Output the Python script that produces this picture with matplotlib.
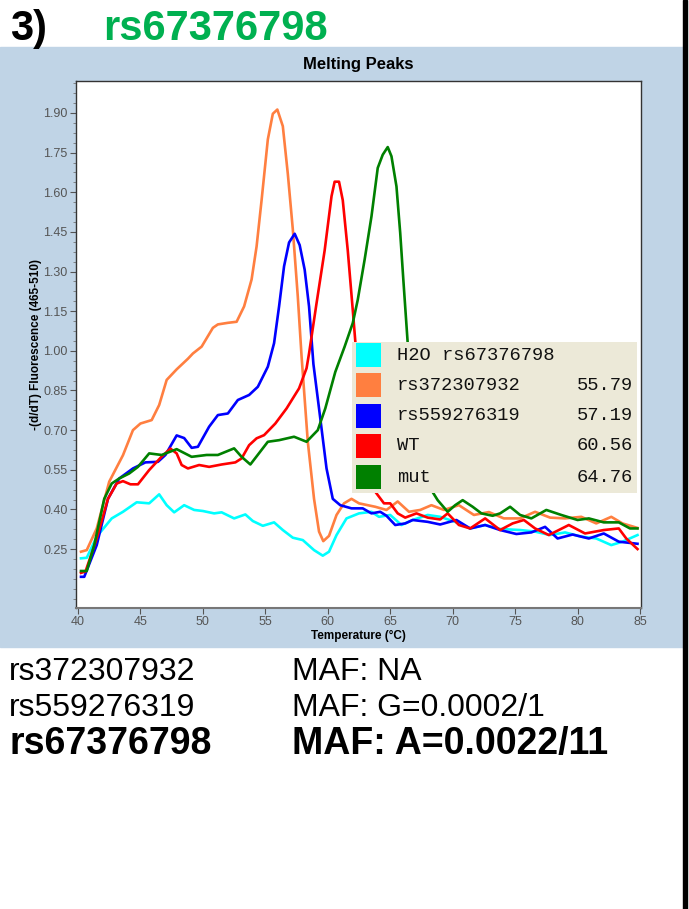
import numpy as np
import matplotlib.pyplot as plt
from matplotlib.patches import Rectangle
from matplotlib.ticker import MultipleLocator, AutoMinorLocator

# melting peak curves (temperature, -(d/dT) fluorescence)
t_h2o = [40.24, 40.7, 41.5, 42.7, 43.6, 44.7, 45.7, 46.5, 47.1, 47.7, 48.5, 49.3, 50.0,
         50.9, 51.5, 52.5, 53.4, 54.0, 54.8, 55.7, 56.4, 57.2, 58.0, 58.9, 59.6, 60.1,
         60.7, 61.5, 62.5, 63.5, 64.1, 65.0, 65.9, 66.8, 68.0, 69.0, 70.2, 71.4, 72.6,
         73.8, 75.4, 76.6, 77.8, 79.0, 80.3, 81.5, 82.7, 83.6, 84.8]
y_h2o = [0.215, 0.217, 0.297, 0.366, 0.391, 0.427, 0.423, 0.457, 0.416, 0.389, 0.416, 0.398, 0.394,
         0.385, 0.389, 0.366, 0.381, 0.356, 0.338, 0.351, 0.322, 0.293, 0.284, 0.246, 0.225, 0.24,
         0.303, 0.366, 0.385, 0.391, 0.372, 0.379, 0.341, 0.36, 0.379, 0.372, 0.353, 0.328, 0.341,
         0.326, 0.322, 0.316, 0.303, 0.313, 0.297, 0.29, 0.265, 0.278, 0.303]

t_rs372 = [40.24, 40.7, 41.5, 42.5, 43.6, 44.4, 45.0, 45.9, 46.5, 47.1, 47.9, 48.8, 49.2, 49.9,
           50.8, 51.2, 52.0, 52.7, 53.3, 53.9, 54.3, 54.7, 55.2, 55.6, 55.96, 56.4, 56.8, 57.2,
           57.6, 57.9, 58.4, 58.9, 59.3, 59.64, 60.1, 60.7, 61.3, 61.9, 62.5, 63.8, 64.7, 65.6,
           66.5, 67.4, 68.3, 69.3, 70.5, 71.7, 72.9, 74.1, 75.4, 76.6, 77.8, 79.0, 80.3, 81.5,
           82.7, 83.6, 84.8]
y_rs372 = [0.24, 0.246, 0.328, 0.505, 0.605, 0.70, 0.725, 0.738, 0.795, 0.89, 0.93, 0.97, 0.99, 1.016,
           1.087, 1.10, 1.106, 1.11, 1.168, 1.27, 1.395, 1.57, 1.80, 1.897, 1.913, 1.85, 1.67, 1.46,
           1.205, 0.98, 0.656, 0.44, 0.316, 0.28, 0.30, 0.379, 0.423, 0.44, 0.423, 0.41, 0.398, 0.43,
           0.391, 0.398, 0.416, 0.398, 0.416, 0.379, 0.39, 0.366, 0.366, 0.391, 0.369, 0.366, 0.372, 0.347,
           0.372, 0.347, 0.33]

t_rs559 = [40.24, 40.5, 41.5, 42.4, 43.3, 44.4, 45.4, 46.4, 47.0, 47.9, 48.5, 49.1, 49.6, 50.5,
           51.2, 52.0, 52.8, 53.7, 54.4, 55.2, 55.7, 56.1, 56.5, 56.9, 57.35, 57.75, 58.15, 58.5,
           58.85, 59.3, 59.9, 60.4, 61.0, 61.9, 62.8, 63.5, 64.2, 64.7, 65.4, 66.2, 66.8, 68.0,
           69.0, 70.3, 71.4, 72.6, 73.8, 75.1, 76.3, 77.4, 78.4, 79.6, 80.9, 82.1, 83.3, 84.8]
y_rs559 = [0.145, 0.145, 0.265, 0.44, 0.517, 0.555, 0.578, 0.58, 0.606, 0.68, 0.67, 0.633, 0.637, 0.713,
           0.757, 0.763, 0.814, 0.833, 0.864, 0.94, 1.029, 1.168, 1.32, 1.41, 1.443, 1.40, 1.307, 1.168,
           0.95, 0.782, 0.555, 0.44, 0.416, 0.404, 0.404, 0.385, 0.391, 0.376, 0.341, 0.347, 0.36, 0.353,
           0.343, 0.36, 0.328, 0.341, 0.322, 0.307, 0.313, 0.334, 0.29, 0.305, 0.29, 0.309, 0.278, 0.27]

t_wt = [40.24, 40.6, 41.5, 42.4, 43.1, 43.6, 44.2, 44.8, 45.7, 46.7, 47.4, 47.9, 48.3, 48.8,
        49.7, 50.5, 51.5, 52.6, 53.1, 53.7, 54.3, 54.9, 55.8, 56.7, 57.7, 58.3, 58.5, 59.1,
        59.75, 60.3, 60.55, 60.9, 61.2, 61.6, 62.0, 62.3, 63.0, 63.8, 64.5, 65.0, 65.6, 66.2,
        67.1, 68.0, 69.0, 69.6, 70.5, 71.4, 72.6, 73.8, 74.8, 75.7, 76.6, 77.7, 79.3, 80.6,
        82.1, 83.3, 83.9, 84.8]
y_wt = [0.16, 0.165, 0.29, 0.44, 0.498, 0.507, 0.495, 0.495, 0.549, 0.60, 0.63, 0.612, 0.568, 0.555,
        0.568, 0.561, 0.57, 0.578, 0.593, 0.643, 0.669, 0.681, 0.725, 0.782, 0.858, 0.934, 0.99, 1.18,
        1.38, 1.585, 1.64, 1.64, 1.57, 1.38, 1.155, 0.98, 0.66, 0.467, 0.423, 0.423, 0.385, 0.369,
        0.385, 0.369, 0.362, 0.385, 0.341, 0.328, 0.366, 0.322, 0.347, 0.36, 0.328, 0.303, 0.341, 0.309,
        0.322, 0.328, 0.29, 0.25]

t_mut = [40.24, 40.7, 41.3, 42.1, 42.7, 43.3, 44.1, 44.8, 45.7, 46.7, 47.9, 49.1, 50.3, 51.2,
         52.5, 53.1, 53.8, 55.2, 56.1, 57.3, 58.3, 59.2, 59.8, 60.6, 61.35, 62.0, 62.4, 62.95,
         63.5, 64.0, 64.4, 64.8, 65.1, 65.5, 65.8, 66.05, 66.4, 67.3, 68.3, 68.8, 69.6, 70.2,
         70.8, 71.6, 72.3, 73.2, 73.8, 74.6, 75.4, 76.3, 77.5, 78.7, 80.0, 80.9, 82.1, 83.3,
         84.2, 84.8]
y_mut = [0.167, 0.167, 0.265, 0.44, 0.498, 0.517, 0.536, 0.561, 0.612, 0.606, 0.628, 0.599, 0.606, 0.606,
         0.631, 0.599, 0.57, 0.656, 0.662, 0.675, 0.656, 0.70, 0.782, 0.92, 1.016, 1.105, 1.193, 1.345,
         1.509, 1.692, 1.742, 1.771, 1.736, 1.622, 1.446, 1.269, 1.029, 0.70, 0.473, 0.435, 0.391, 0.416,
         0.435, 0.41, 0.385, 0.376, 0.385, 0.41, 0.379, 0.366, 0.398, 0.379, 0.36, 0.366, 0.351, 0.351,
         0.328, 0.328]

names = ['H2O rs67376798', 'rs372307932', 'rs559276319', 'WT', 'mut']
tm_labels = ['', '55.79', '57.19', '60.56', '64.76']
colors = ['#00ffff', '#ff7f40', '#0000ff', '#ff0000', '#008000']
yticks = [0.25, 0.40, 0.55, 0.70, 0.85, 1.00, 1.15, 1.30, 1.45, 1.60, 1.75, 1.90]

snp_ids = ['rs372307932', 'rs559276319', 'rs67376798']
maf_text = ['MAF: NA', 'MAF: G=0.0002/1', 'MAF: A=0.0022/11']

W, H = 689, 909
plt.rcParams['font.family'] = ['Liberation Sans', 'DejaVu Sans']
fig = plt.figure(figsize=(W / 100, H / 100), dpi=100)

def fx(px):
    return px / W

def fy(py):
    return 1 - py / H

# light blue panel behind the chart and the black border line on the right
fig.patches.append(Rectangle((0, fy(647)), fx(683), fy(47) - fy(647),
                             transform=fig.transFigure, color='#c0d4e6', zorder=-10))
fig.patches.append(Rectangle((fx(683), 0), fx(4), 1,
                             transform=fig.transFigure, color='black', zorder=-10))

ax = fig.add_axes([fx(76), fy(608), fx(641) - fx(76), fy(81) - fy(608)])
ax.set_facecolor('white')

series = [(t_h2o, y_h2o), (t_rs372, y_rs372), (t_rs559, y_rs559), (t_wt, y_wt), (t_mut, y_mut)]
for (t, y), c in zip(series, colors):
    ax.plot(t, y, color=c, lw=1.9, solid_joinstyle='round')

ax.set_xlim(39.84, 85.08)
ax.set_ylim(0.027, 2.021)
ax.xaxis.set_major_locator(MultipleLocator(5))
ax.set_yticks(yticks)
ax.set_yticklabels(['%.2f' % v for v in yticks])
ax.yaxis.set_minor_locator(AutoMinorLocator(4))
ax.tick_params(axis='both', which='major', labelsize=9, labelcolor='#555555',
               color='#555555', length=4, width=0.8, pad=2)
ax.tick_params(axis='y', which='minor', color='#777777', length=2, width=0.6)
for s in ax.spines.values():
    s.set_color('#333333')
    s.set_linewidth(1.0)
ax.spines['bottom'].set_color('#777777')
ax.spines['bottom'].set_linewidth(1.5)

ax.set_xlabel('Temperature (\u00b0C)', fontsize=8.5, fontweight='bold', labelpad=1)
ax.set_ylabel('-(d/dT) Fluorescence (465-510)', fontsize=8.5, fontweight='bold', labelpad=1)
ax.set_title('Melting Peaks', fontsize=12, fontweight='bold', pad=9)

# legend box drawn like the instrument software (pixel layout in axes fraction)
def ax_x(px):
    return (px - 76) / 565

def ax_y(py):
    return (608 - py) / 527

ax.add_patch(Rectangle((ax_x(352), ax_y(493)), ax_x(637) - ax_x(352), ax_y(342) - ax_y(493),
                       transform=ax.transAxes, facecolor='#ece9d8', edgecolor='none',
                       zorder=5, clip_on=False))
row_y = [355, 385, 415.5, 446, 477]
for name, tm, c, ry in zip(names, tm_labels, colors, row_y):
    ax.add_patch(Rectangle((ax_x(356), ax_y(ry + 12)), ax_x(381) - ax_x(356), ax_y(ry - 12) - ax_y(ry + 12),
                           transform=ax.transAxes, facecolor=c, edgecolor='none', zorder=6))
    ax.text(ax_x(397), ax_y(ry), name, transform=ax.transAxes, fontsize=13.5,
            family='Liberation Mono', va='center', ha='left', zorder=7, color='#111111')
    if tm:
        ax.text(ax_x(633), ax_y(ry), tm, transform=ax.transAxes, fontsize=13.5,
                family='Liberation Mono', va='center', ha='right', zorder=7, color='#111111')

# header
fig.text(fx(10), fy(40), '3)', fontsize=30, fontweight='bold', color='black', va='baseline')
fig.text(fx(103), fy(40), 'rs67376798', fontsize=30, fontweight='bold', color='#00b050', va='baseline')

# notes under the chart
base = [680, 716, 754]
for i, (sid, maf) in enumerate(zip(snp_ids, maf_text)):
    wt = 'bold' if i == 2 else 'normal'
    sz = 27 if i == 2 else 23
    fig.text(fx(9), fy(base[i]), sid, fontsize=sz, fontweight=wt, va='baseline')
    fig.text(fx(292), fy(base[i]), maf, fontsize=sz, fontweight=wt, va='baseline')

fig.savefig('out.png', dpi=100)
